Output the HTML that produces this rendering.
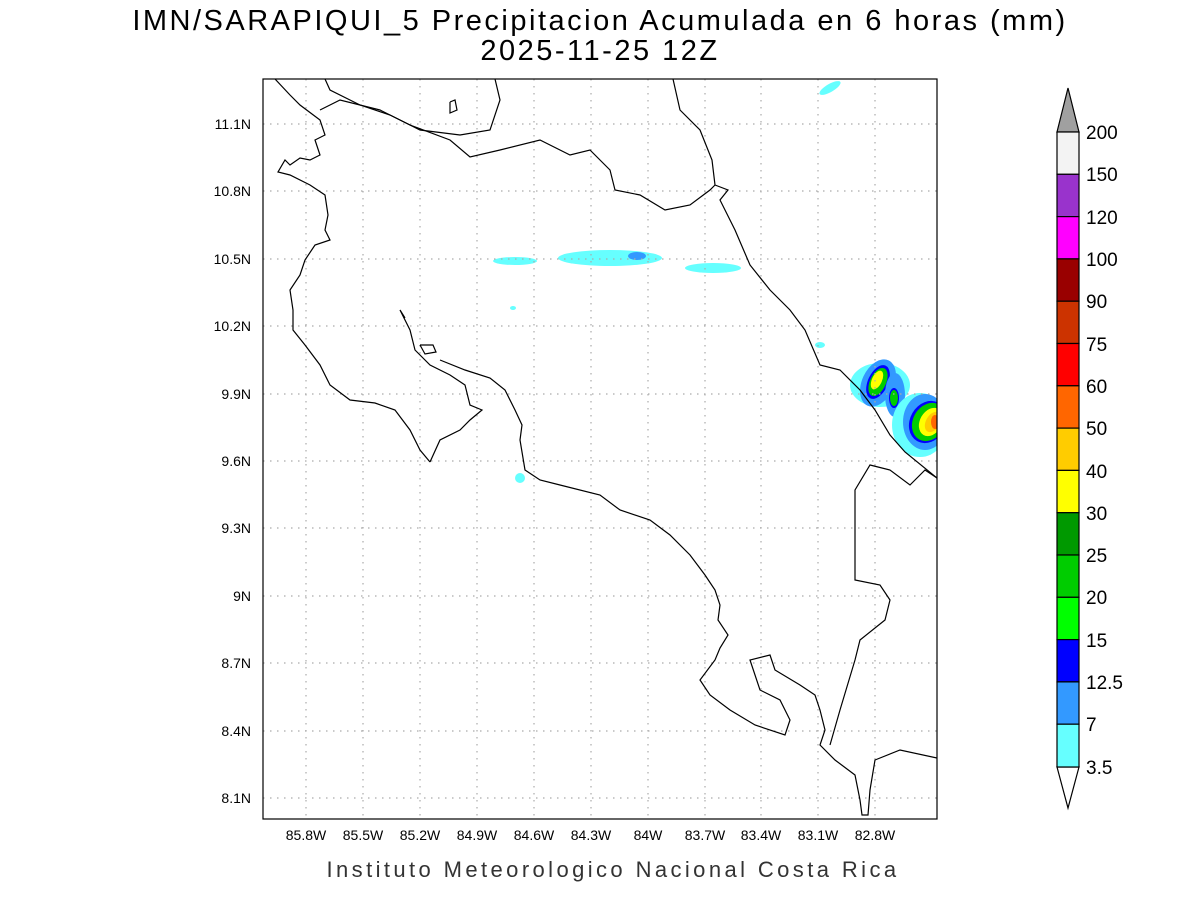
<!DOCTYPE html>
<html><head><meta charset="utf-8"><style>body{margin:0;background:#fff}svg{display:block}</style></head><body>
<svg width="1200" height="900" xmlns="http://www.w3.org/2000/svg" font-family="Liberation Sans, sans-serif">
<rect width="1200" height="900" fill="#fff"/>
<text x="600" y="30" font-size="29" text-anchor="middle" fill="#000" letter-spacing="2.5">IMN/SARAPIQUI_5 Precipitacion Acumulada en 6 horas (mm)</text>
<text x="600" y="60" font-size="29" text-anchor="middle" fill="#000" letter-spacing="2.5">2025-11-25 12Z</text>
<defs><clipPath id="c"><rect x="263" y="79" width="674" height="740"/></clipPath></defs>
<g clip-path="url(#c)">
<g>
<ellipse cx="830" cy="88" rx="12" ry="4" fill="#66ffff" transform="rotate(-30 830 88)"/>
<ellipse cx="515" cy="261" rx="22" ry="4" fill="#66ffff"/>
<ellipse cx="610" cy="258" rx="52" ry="8" fill="#66ffff"/>
<ellipse cx="637" cy="256" rx="9" ry="4" fill="#3399ff"/>
<ellipse cx="713" cy="268" rx="28" ry="5" fill="#66ffff"/>
<ellipse cx="520" cy="478" rx="5" ry="5" fill="#66ffff"/>
<ellipse cx="513" cy="308" rx="3" ry="2" fill="#66ffff"/>
<ellipse cx="820" cy="345" rx="5" ry="3" fill="#66ffff"/>
<ellipse cx="880" cy="385" rx="30" ry="22" fill="#66ffff"/>
<ellipse cx="878" cy="383" rx="16" ry="25" fill="#3399ff" transform="rotate(25 878 383)"/>
<ellipse cx="878" cy="382" rx="10" ry="18" fill="#0000ff" transform="rotate(25 878 382)"/>
<ellipse cx="878" cy="382" rx="8" ry="15" fill="#00cc00" transform="rotate(25 878 382)"/>
<ellipse cx="877" cy="380" rx="5" ry="10" fill="#ffff00" transform="rotate(25 877 380)"/>
<ellipse cx="895" cy="395" rx="10" ry="22" fill="#3399ff"/>
<ellipse cx="894" cy="398" rx="5" ry="10" fill="#0000ff"/>
<ellipse cx="894" cy="398" rx="4" ry="8" fill="#00cc00"/>
<ellipse cx="920" cy="425" rx="28" ry="32" fill="#66ffff"/>
<ellipse cx="925" cy="422" rx="22" ry="28" fill="#3399ff"/>
<ellipse cx="928" cy="422" rx="18" ry="22" fill="#0000ff" transform="rotate(30 928 422)"/>
<ellipse cx="929" cy="422" rx="16" ry="20" fill="#00cc00" transform="rotate(30 929 422)"/>
<ellipse cx="931" cy="422" rx="11" ry="15" fill="#ffff00" transform="rotate(30 931 422)"/>
<ellipse cx="933" cy="422" rx="7" ry="11" fill="#ffcc00" transform="rotate(30 933 422)"/>
<ellipse cx="935" cy="422" rx="4" ry="7" fill="#ff6600"/>
</g>
<g stroke="#aaa" stroke-width="1.2" stroke-dasharray="1.5,5.5">
<line x1="306" y1="79" x2="306" y2="819"/><line x1="363" y1="79" x2="363" y2="819"/><line x1="420" y1="79" x2="420" y2="819"/><line x1="477" y1="79" x2="477" y2="819"/><line x1="534" y1="79" x2="534" y2="819"/><line x1="591" y1="79" x2="591" y2="819"/><line x1="648" y1="79" x2="648" y2="819"/><line x1="705" y1="79" x2="705" y2="819"/><line x1="761" y1="79" x2="761" y2="819"/><line x1="818" y1="79" x2="818" y2="819"/><line x1="875" y1="79" x2="875" y2="819"/>
<line x1="263" y1="124" x2="937" y2="124"/><line x1="263" y1="191" x2="937" y2="191"/><line x1="263" y1="259" x2="937" y2="259"/><line x1="263" y1="326" x2="937" y2="326"/><line x1="263" y1="394" x2="937" y2="394"/><line x1="263" y1="461" x2="937" y2="461"/><line x1="263" y1="528" x2="937" y2="528"/><line x1="263" y1="596" x2="937" y2="596"/><line x1="263" y1="663" x2="937" y2="663"/><line x1="263" y1="731" x2="937" y2="731"/><line x1="263" y1="798" x2="937" y2="798"/>
</g>
<g fill="none" stroke="#000" stroke-width="1.2">
<polyline points="275,79 290,95 300,105 320,120 325,135 315,140 320,155 310,160 300,158 290,165 285,160 278,172 290,175 310,185 325,195 328,215 325,230 330,240 315,245 305,260 300,275 290,290 293,310 293,330 305,345 320,365 330,385 350,400 375,403 395,410 410,430 420,450 430,462"/>
<polyline points="430,462 440,440 460,430 470,420 482,410 470,405 465,385 450,375 430,365 415,350 410,330 400,310 405,318"/>
<polyline points="420,345 433,345 436,352 425,354 420,345"/>
<polyline points="440,360 465,370 490,378 505,390 515,410 522,425 520,440 525,470 540,480 560,485 600,495 620,510 650,520 670,535 690,555 705,575 715,590 720,605 718,620 728,635 720,648 715,660 700,680 710,695 730,710 755,725 785,735 790,720 780,700 760,690 750,660 770,655 775,670 800,685 815,695 820,710 825,730 820,745 835,760 855,775 860,800 862,815 868,815 870,790 875,760 900,750 937,758"/>
<polyline points="673,79 680,110 700,130 712,160 715,185 728,190 720,200 735,230 750,265 770,290 790,310 805,330 820,365 840,370 860,390 875,410 890,435 905,452 937,478"/>
<polyline points="830,745 840,710 855,660 860,640 885,620 890,600 880,585 855,580 855,490 870,465 890,470 910,485 925,470 937,478"/>
<polyline points="320,110 340,100 380,110 410,125 450,140 470,157 500,150 540,140 570,155 590,150 610,170 615,190 640,195 665,210 690,205 710,190 715,185"/>
<polyline points="325,79 330,90 360,105 390,115 420,130 460,135 490,130 500,100 495,79"/>
<polyline points="450,102 455,100 457,110 450,113 450,102"/>
</g>
</g>
<rect x="263" y="79" width="674" height="740" fill="none" stroke="#000" stroke-width="1.2"/>
<g font-size="14" fill="#000" text-anchor="middle">
<text x="306" y="840">85.8W</text><text x="363" y="840">85.5W</text><text x="420" y="840">85.2W</text><text x="477" y="840">84.9W</text><text x="534" y="840">84.6W</text><text x="591" y="840">84.3W</text><text x="648" y="840">84W</text><text x="705" y="840">83.7W</text><text x="761" y="840">83.4W</text><text x="818" y="840">83.1W</text><text x="875" y="840">82.8W</text>
</g>
<g font-size="14" fill="#000" text-anchor="end">
<text x="251" y="129">11.1N</text><text x="251" y="196">10.8N</text><text x="251" y="264">10.5N</text><text x="251" y="331">10.2N</text><text x="251" y="399">9.9N</text><text x="251" y="466">9.6N</text><text x="251" y="533">9.3N</text><text x="251" y="601">9N</text><text x="251" y="668">8.7N</text><text x="251" y="736">8.4N</text><text x="251" y="803">8.1N</text>
</g>
<text x="613" y="877" font-size="22" text-anchor="middle" fill="#333" letter-spacing="3.4">Instituto Meteorologico Nacional Costa Rica</text>
<g stroke="#000" stroke-width="1.2">
<polygon points="1057,132 1079,132 1068,88" fill="#a0a0a0"/>
<polygon points="1057,767 1079,767 1068,808" fill="#fff"/>
<rect x="1057" y="132" width="22" height="42.3" fill="#f3f3f3"/>
<rect x="1057" y="174.3" width="22" height="42.3" fill="#9933cc"/>
<rect x="1057" y="216.6" width="22" height="42.3" fill="#ff00ff"/>
<rect x="1057" y="258.9" width="22" height="42.3" fill="#990000"/>
<rect x="1057" y="301.2" width="22" height="42.3" fill="#cc3300"/>
<rect x="1057" y="343.5" width="22" height="42.3" fill="#ff0000"/>
<rect x="1057" y="385.8" width="22" height="42.3" fill="#ff6600"/>
<rect x="1057" y="428.1" width="22" height="42.3" fill="#ffcc00"/>
<rect x="1057" y="470.4" width="22" height="42.3" fill="#ffff00"/>
<rect x="1057" y="512.7" width="22" height="42.3" fill="#009900"/>
<rect x="1057" y="555" width="22" height="42.3" fill="#00cc00"/>
<rect x="1057" y="597.3" width="22" height="42.3" fill="#00ff00"/>
<rect x="1057" y="639.6" width="22" height="42.3" fill="#0000ff"/>
<rect x="1057" y="681.9" width="22" height="42.3" fill="#3399ff"/>
<rect x="1057" y="724.2" width="22" height="42.8" fill="#66ffff"/>
</g>
<g font-size="19" fill="#000">
<text x="1086" y="139">200</text><text x="1086" y="181">150</text><text x="1086" y="224">120</text><text x="1086" y="266">100</text><text x="1086" y="308">90</text><text x="1086" y="351">75</text><text x="1086" y="393">60</text><text x="1086" y="435">50</text><text x="1086" y="478">40</text><text x="1086" y="520">30</text><text x="1086" y="562">25</text><text x="1086" y="604">20</text><text x="1086" y="647">15</text><text x="1086" y="689">12.5</text><text x="1086" y="731">7</text><text x="1086" y="774">3.5</text>
</g>
</svg>
</body></html>
